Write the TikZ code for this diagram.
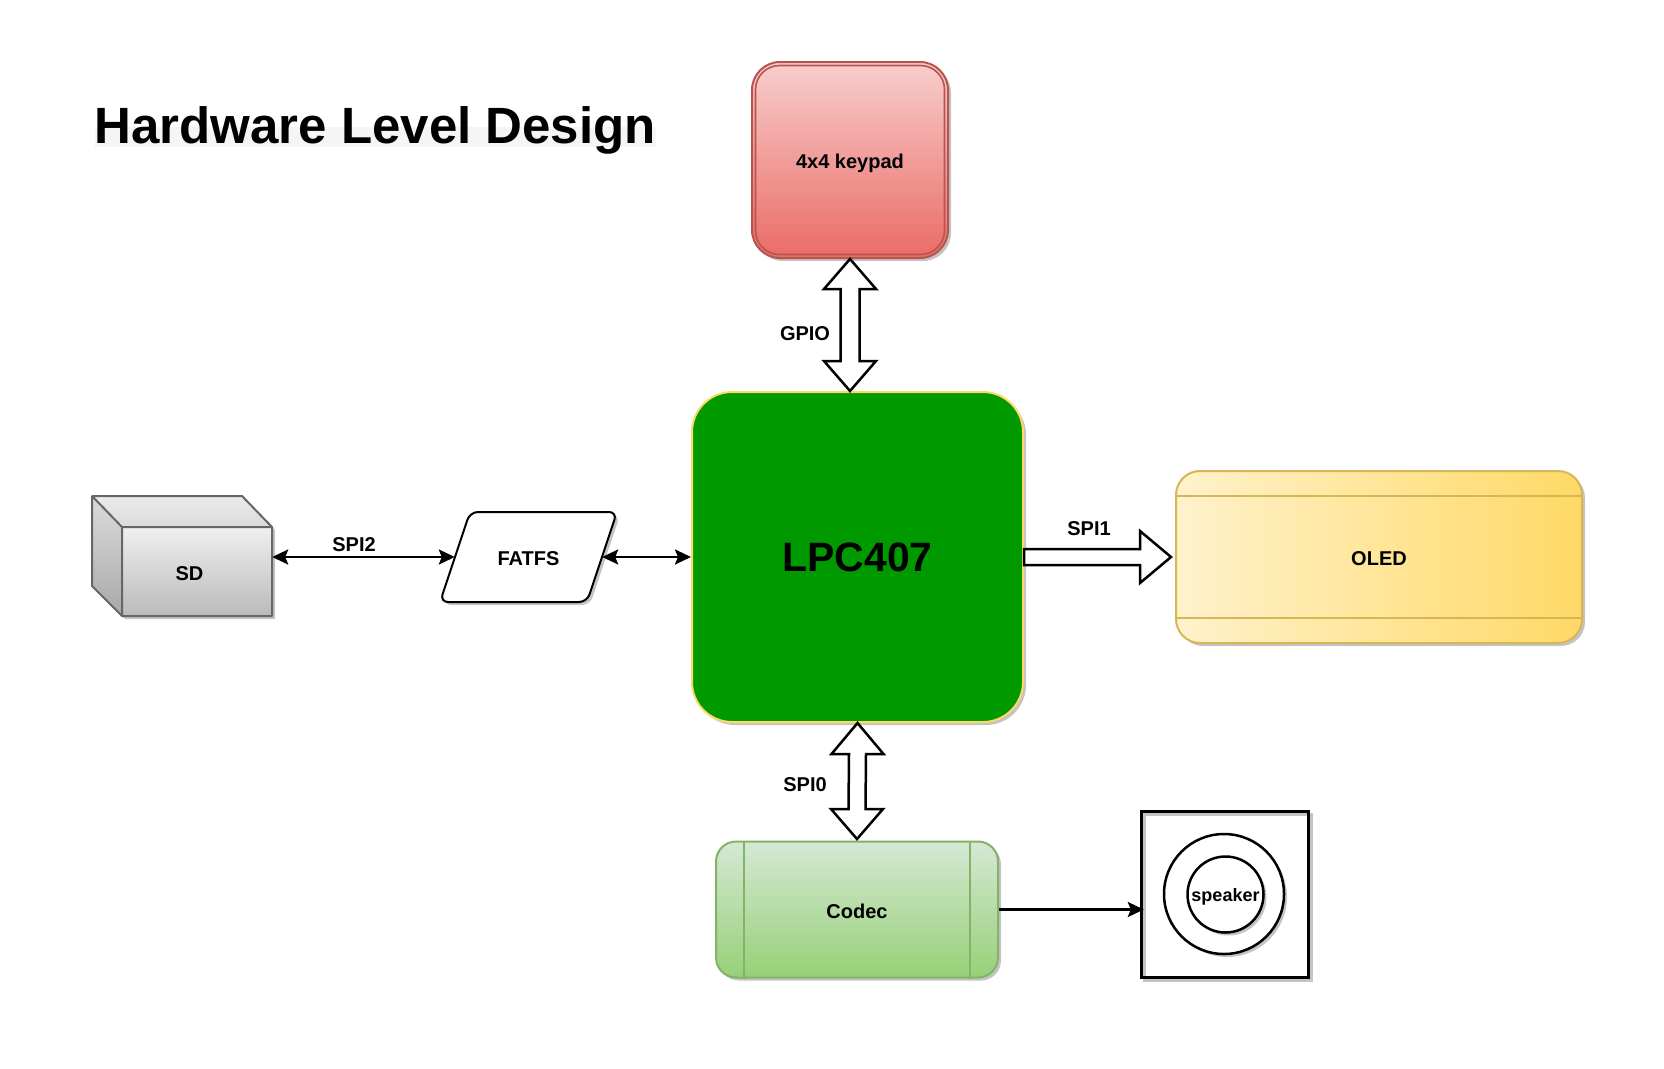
\documentclass[tikz,border=0pt]{standalone}
\usepackage{fontspec}
\setmainfont{Liberation Sans}
\usetikzlibrary{calc,shadows,arrows.meta}
\definecolor{kpStroke}{HTML}{B85450}
\definecolor{kpTop}{HTML}{F8CECC}
\definecolor{kpBot}{HTML}{EA6B66}
\definecolor{lpcFill}{HTML}{009900}
\definecolor{lpcStroke}{HTML}{FFD966}
\definecolor{olStroke}{HTML}{D6B656}
\definecolor{olLeft}{HTML}{FFF2CC}
\definecolor{olRight}{HTML}{FFD966}
\definecolor{cdStroke}{HTML}{82B366}
\definecolor{cdTop}{HTML}{D5E8D4}
\definecolor{cdBot}{HTML}{97D077}
\definecolor{sdStroke}{HTML}{666666}
\definecolor{shadowGray}{HTML}{C4C4C4}
\definecolor{bandGray}{HTML}{F4F5F7}
\begin{document}
\begin{tikzpicture}[x=1pt,y=-1pt,
  lbl/.style={font=\fontsize{20}{24}\selectfont\bfseries, inner sep=0pt, text height=16pt, text depth=0pt},
  shad/.style={drop shadow={shadow xshift=3pt,shadow yshift=-3pt,fill=shadowGray,opacity=1}},
  boxnode/.style={inner sep=0pt, font=\fontsize{20}{24}\selectfont\bfseries, text height=17.4pt, text depth=0pt},
  blockarrow/.style={draw=black, fill=white, line width=2.5pt, line join=miter},
  thinarrow/.style={draw=black, line width=2.5pt, >={Stealth[length=16pt,width=15pt,inset=3pt]}}
]
\useasboundingbox (0,0) rectangle (1664,1068);

% title
\fill[bandGray] (95,127) rectangle (656,147);
\node[anchor=base west, inner sep=0pt, font=\fontsize{51}{60}\selectfont\bfseries] (title) at (94.5,143) {Hardware Level Design};

% keypad
\node[boxnode, shad, draw=kpStroke, line width=2pt, rounded corners=28pt,
      top color=kpTop, bottom color=kpBot,
      minimum width=196pt, minimum height=196pt] (keypad) at (850,160) {4x4 keypad};
\draw[kpStroke, line width=1.6pt, rounded corners=24pt]
  ($(keypad.north west)+(4.5,4.5)$) rectangle ($(keypad.south east)+(-4.5,-4.5)$);

% LPC407
\node[inner sep=0pt, shad, draw=lpcStroke, line width=2pt, fill=lpcFill, rounded corners=40pt,
      minimum width=331pt, minimum height=330pt, text height=29.4pt, text depth=0pt,
      font=\fontsize{41}{48}\selectfont\bfseries] (lpc) at (857.5,557) {LPC407};

% OLED
\node[boxnode, shad, draw=olStroke, line width=2pt, rounded corners=24pt,
      left color=olLeft, right color=olRight,
      minimum width=406pt, minimum height=172pt] (oled) at (1379,557) {OLED};
\draw[olStroke, line width=2pt] ($(oled.north west)+(0,26)$) -- ($(oled.north east)+(0,26)$);
\draw[olStroke, line width=2pt] ($(oled.south west)+(0,-26)$) -- ($(oled.south east)+(0,-26)$);

% Codec
\node[boxnode, shad, draw=cdStroke, line width=2pt, rounded corners=20pt,
      top color=cdTop, bottom color=cdBot,
      minimum width=282pt, minimum height=136pt] (codec) at (857,909.5) {Codec};
\draw[cdStroke, line width=2pt] ($(codec.north west)+(29,0)$) -- ($(codec.south west)+(29,0)$);
\draw[cdStroke, line width=2pt] ($(codec.north east)+(-29,0)$) -- ($(codec.south east)+(-29,0)$);

% SD cube
\coordinate (cA) at (92,496);
\coordinate (cB) at (242,496);
\coordinate (cC) at (122,527);
\coordinate (cD) at (272,527);
\coordinate (cE) at (272,616);
\coordinate (cF) at (122,616);
\coordinate (cG) at (92,586);
\path[shad, fill=white] (cA) -- (cB) -- (cD) -- (cE) -- (cF) -- (cG) -- cycle;
\fill[top color=black!6, bottom color=black!27] (cC) rectangle (cE);
\fill[top color=black!8, bottom color=black!14] (cA) -- (cB) -- (cD) -- (cC) -- cycle;
\fill[top color=black!14, bottom color=black!34] (cA) -- (cC) -- (cF) -- (cG) -- cycle;
\draw[sdStroke, line width=2pt, line join=round] (cA) -- (cB) -- (cD) -- (cE) -- (cF) -- (cG) -- cycle;
\draw[sdStroke, line width=2pt, line join=round] (cA) -- (cC) -- (cD) (cC) -- (cF);
\node[boxnode, minimum width=165pt, minimum height=89pt] (sd) at (189.5,572) {SD};

% FATFS parallelogram
\path[shad, fill=white, draw=black, line width=2pt, rounded corners=8pt]
  (470,512) -- (617,512) -- (587,602) -- (440,602) -- cycle;
\node[boxnode, minimum width=147pt, minimum height=90pt] (fatfs) at (528.5,557) {FATFS};

% speaker
\node[inner sep=0pt, draw=none, minimum width=166pt, minimum height=165pt] (spkbox) at (1225,894.5) {};
\draw[shadowGray, line width=3pt] ($(spkbox.north west)+(3,3)$) rectangle ($(spkbox.south east)+(3,3)$);
\draw[black, line width=3pt] (spkbox.north west) rectangle (spkbox.south east);
\node[circle, inner sep=0pt, shad, draw=black, fill=white, line width=2.5pt, minimum size=120pt] (spkouter) at (1224,894) {};
\node[circle, inner sep=0pt, shad, draw=black, fill=white, line width=2.5pt, minimum size=76pt,
      text height=13.7pt, text depth=0pt,
      font=\fontsize{18}{22}\selectfont\bfseries] (spkinner) at (1225.5,894.5) {speaker};

% GPIO block arrow (double)
\coordinate (gT) at (keypad.south);
\coordinate (gB) at (keypad.south |- lpc.north);
\draw[blockarrow] (gT) -- ($(gT)+(26,30)$) -- ($(gT)+(9.5,30)$) -- ($(gB)+(9.5,-30)$) -- ($(gB)+(26,-30)$)
  -- (gB) -- ($(gB)+(-26,-30)$) -- ($(gB)+(-9.5,-30)$) -- ($(gT)+(-9.5,30)$) -- ($(gT)+(-26,30)$) -- cycle;
\node[lbl] (gpiolbl) at (805,332) {GPIO};

% SPI0 block arrow (double)
\coordinate (sT) at (lpc.south);
\coordinate (sB) at ($(codec.north)+(0,-1.5)$);
\draw[blockarrow] (sT) -- ($(sT)+(26,31)$) -- ($(sT)+(8.5,31)$) -- ($(sB)+(8.5,-30)$) -- ($(sB)+(26,-30)$)
  -- (sB) -- ($(sB)+(-26,-30)$) -- ($(sB)+(-8.5,-30)$) -- ($(sT)+(-8.5,31)$) -- ($(sT)+(-26,31)$) -- cycle;
\node[lbl] (spi0lbl) at (805,783) {SPI0};

% SPI1 block arrow (single)
\coordinate (pL) at (lpc.east);
\coordinate (pR) at ($(oled.west)+(-4,0)$);
\draw[blockarrow] (pL) -- ($(pL)+(0,-8)$) -- ($(pR)+(-31,-8)$) -- ($(pR)+(-31,-26)$) -- (pR)
  -- ($(pR)+(-31,26)$) -- ($(pR)+(-31,8)$) -- ($(pL)+(0,8)$) -- cycle;
\node[lbl] (spi1lbl) at (1089,527) {SPI1};

% thin arrows
\draw[thinarrow, <->] (sd.east |- fatfs.west) -- (fatfs.west);
\node[lbl] (spi2lbl) at (354,543) {SPI2};
\draw[thinarrow, <->] (fatfs.east) -- (lpc.west |- fatfs.east);
\draw[thinarrow, ->] (codec.east) -- ($(spkbox.west |- codec.east)+(2,0)$);

\end{tikzpicture}
\end{document}
